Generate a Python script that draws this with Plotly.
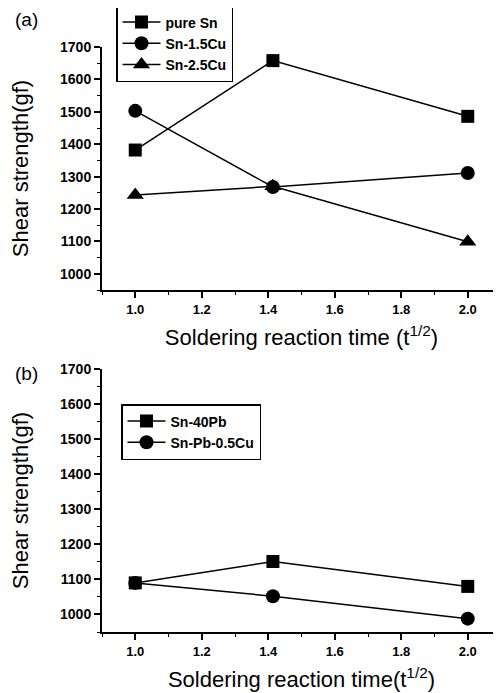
import plotly.graph_objects as go

x_time = [1.0, 1.414, 2.0]

# Panel (a)
pure_sn = [1382, 1658, 1486]
sn_15cu = [1503, 1268, 1311]
sn_25cu = [1243, 1270, 1099]

# Panel (b)
sn_40pb = [1090, 1151, 1080]
sn_pb_05cu = [1090, 1052, 988]

x_ticks = [1.0, 1.2, 1.4, 1.6, 1.8, 2.0]
x_tick_labels = ["1.0", "1.2", "1.4", "1.6", "1.8", "2.0"]
y_ticks = [1000, 1100, 1200, 1300, 1400, 1500, 1600, 1700]

FONT = "Liberation Sans, Arial, sans-serif"

fig = go.Figure()

def add(x, y, name, symbol, xa, ya, legend, size=13):
    fig.add_trace(go.Scatter(
        x=x, y=y, name=name, mode="lines+markers",
        line=dict(color="black", width=1.5),
        marker=dict(symbol=symbol, size=size, color="black"),
        xaxis=xa, yaxis=ya, legend=legend,
    ))

add(x_time, pure_sn, "pure Sn", "square", "x", "y", "legend")
add(x_time, sn_15cu, "Sn-1.5Cu", "circle", "x", "y", "legend", 14)
add(x_time, sn_25cu, "Sn-2.5Cu", "triangle-up", "x", "y", "legend", 15)
add(x_time, sn_40pb, "Sn-40Pb", "square", "x2", "y2", "legend2")
add(x_time, sn_pb_05cu, "Sn-Pb-0.5Cu", "circle", "x2", "y2", "legend2", 14)

# page body has an 8px margin; compensate so the figure lines up with the viewport
OFF = 8
H = 693.0
W = 501.0
L = 102 - OFF
R = W - (501 - OFF)

def fx(px):
    return (px - OFF - L) / (W - L - R)

def fy(py):
    return 1 - (py - OFF) / H

def xaxis_cfg(anchor, title):
    return dict(
        range=[0.9, 2.1], tickvals=x_ticks, ticktext=x_tick_labels,
        ticks="outside", ticklen=6, tickwidth=1.5, tickcolor="black",
        minor=dict(dtick=0.1, ticks="outside", ticklen=3, tickwidth=1, tickcolor="black"),
        showline=True, linecolor="black", linewidth=2, showgrid=False, zeroline=False,
        anchor=anchor, domain=[0, 1], automargin=False,
        tickfont=dict(family=FONT, size=13, color="black", weight="bold"),
        title=dict(text=title, font=dict(family=FONT, size=22, color="black"), standoff=14),
    )

def yaxis_cfg(anchor, dom):
    return dict(
        range=[950, 1700], tickvals=y_ticks,
        ticks="outside", ticklen=6, tickwidth=1.5, tickcolor="black",
        minor=dict(dtick=50, ticks="outside", ticklen=3, tickwidth=1, tickcolor="black"),
        showline=True, linecolor="black", linewidth=2, showgrid=False, zeroline=False,
        anchor=anchor, domain=dom, automargin=False,
        tickfont=dict(family=FONT, size=14, color="black", weight="bold"),
        title=dict(text="Shear strength(gf)", font=dict(family=FONT, size=22, color="black"), standoff=28),
    )

legend_common = dict(
    bgcolor="white", bordercolor="black", borderwidth=1.5,
    font=dict(family=FONT, size=14, color="black", weight="bold"),
    xanchor="left", yanchor="top", tracegroupgap=0, itemwidth=38,
)

fig.update_layout(
    width=int(W), height=int(H),
    margin=dict(l=L, r=R, t=0, b=0, autoexpand=False),
    paper_bgcolor="white", plot_bgcolor="white",
    showlegend=True,
    xaxis=xaxis_cfg("y", "Soldering reaction time (t<sup>1/2</sup>)"),
    yaxis=yaxis_cfg("x", [fy(290), fy(47)]),
    xaxis2=xaxis_cfg("y2", "Soldering reaction time(t<sup>1/2</sup>)"),
    yaxis2=yaxis_cfg("x2", [fy(632), fy(369)]),
    legend=dict(x=fx(116), y=fy(5), **legend_common),
    legend2=dict(x=fx(121), y=fy(404), **legend_common),
    annotations=[
        dict(text="(a)", x=fx(13), y=fy(20), xref="paper", yref="paper", showarrow=False,
             xanchor="left", yanchor="middle", font=dict(family=FONT, size=19, color="black")),
        dict(text="(b)", x=fx(13), y=fy(373), xref="paper", yref="paper", showarrow=False,
             xanchor="left", yanchor="middle", font=dict(family=FONT, size=19, color="black")),
    ],
)

fig.write_html("out.html")
